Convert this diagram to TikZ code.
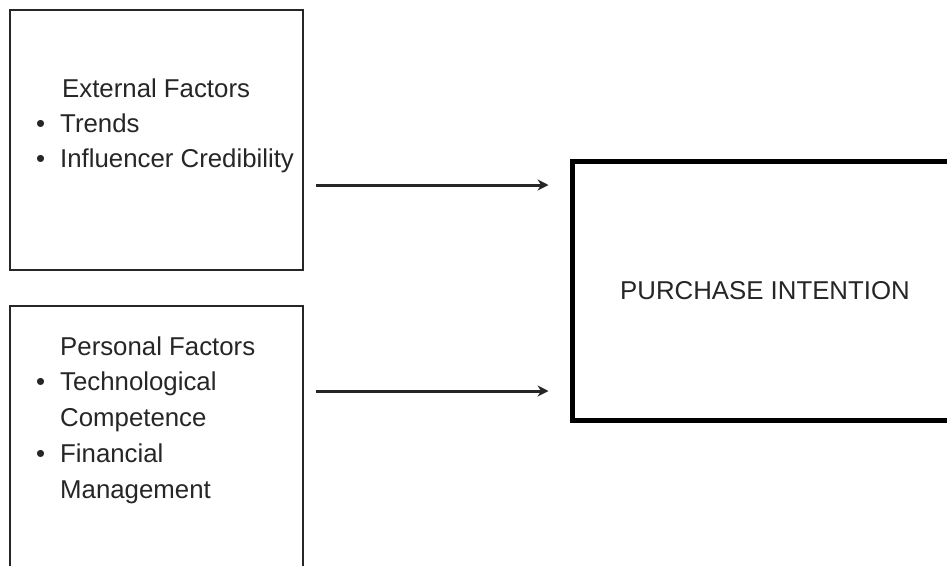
\documentclass[tikz,border=0pt]{standalone}
\usepackage{fontspec}
\setmainfont{Liberation Sans}
\usetikzlibrary{arrows.meta,calc}
\begin{document}
\begin{tikzpicture}[x=1pt,y=-1pt,
  box/.style={draw=black!85, line width=2.5pt, fill=none, inner sep=0pt},
  bigbox/.style={draw=black, line width=5pt, fill=none, inner sep=0pt},
  txt/.style={anchor=base west, inner sep=0pt, text=black!85, font=\fontsize{25.8}{35.5}\selectfont},
  conn/.style={draw=black!85, line width=3pt, -{Stealth[length=11pt,width=11pt]}}]
\clip (0,0) rectangle (947,565);
\fill[white] (0,0) rectangle (947,565);
% boxes
\node[box, minimum width=293pt, minimum height=260pt] (ext) at (156.5,140) {};
\node[box, minimum width=293pt, minimum height=270pt] (pers) at (156.5,441) {};
\node[bigbox, minimum width=420pt, minimum height=259pt] (pi) at (782,290.5) {};
% external factors text
\node[txt] (e0) at (62,97) {External Factors};
\node[txt] (e1b) at (36,132) {•};
\node[txt] (e1) at (60,132) {Trends};
\node[txt] (e2b) at (36,167) {•};
\node[txt] (e2) at (60,167) {Influencer Credibility};
% personal factors text
\node[txt] (p0) at (60,355) {Personal Factors};
\node[txt] (p1b) at (36,390) {•};
\node[txt] (p1) at (60,390) {Technological};
\node[txt] (p2) at (60,426) {Competence};
\node[txt] (p3b) at (36,462) {•};
\node[txt] (p3) at (60,462) {Financial};
\node[txt] (p4) at (60,498) {Management};
% purchase intention
\node[txt] (pt) at (620,299) {PURCHASE INTENTION};
% connectors
\draw[conn] ($(ext.east)+(12,45)$) -- ($(pi.west)+(-21,-105.5)$);
\draw[conn] ($(pers.east)+(12,-50)$) -- ($(pi.west)+(-21,100.5)$);
\end{tikzpicture}
\end{document}
